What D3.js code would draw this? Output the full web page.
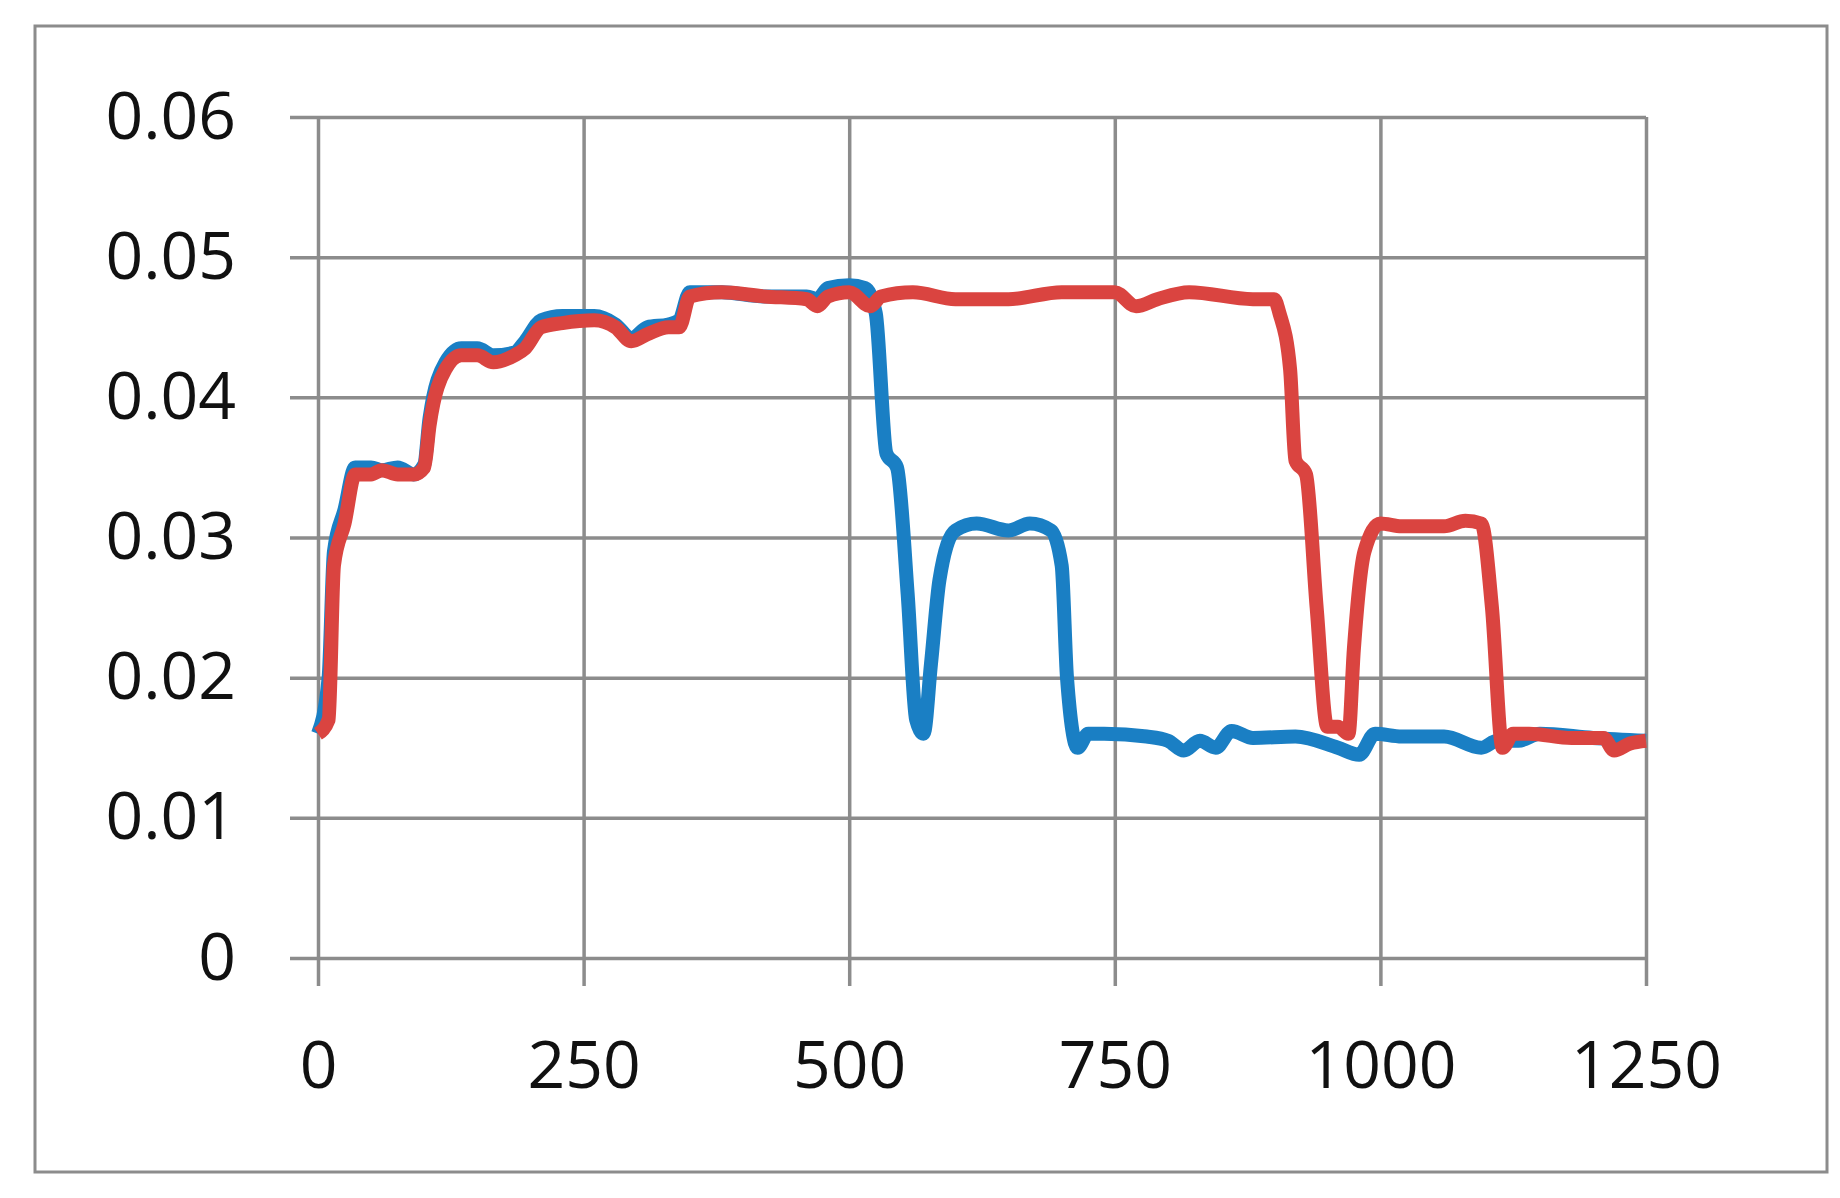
<!DOCTYPE html>
<html>
<head>
<meta charset="utf-8">
<script src="https://cdn.jsdelivr.net/npm/d3@7"></script>
<style>
  body { margin: 0; background: #fff; }
</style>
</head>
<body>
<div id="chart"></div>
<script>
// x ticks and y ticks
var xTicks = [0, 250, 500, 750, 1000, 1250];
var yTicks = [0, 0.01, 0.02, 0.03, 0.04, 0.05, 0.06];
var yTickLabels = ["0", "0.01", "0.02", "0.03", "0.04", "0.05", "0.06"];

// blue series
var blueX = [0, 10, 15, 25, 35, 50, 60, 75, 90, 100, 105, 120, 135, 150, 165, 185, 195, 210, 230, 260, 280, 295, 310, 330, 340, 350, 380, 420, 460, 470, 480, 500, 515, 525, 535, 545, 555, 563, 570, 577, 585, 600, 620, 650, 670, 690, 700, 705, 715, 725, 740, 780, 800, 815, 830, 845, 860, 880, 920, 960, 980, 995, 1020, 1060, 1095, 1110, 1130, 1150, 1200, 1250];
var blueY = [0.016, 0.02, 0.029, 0.032, 0.035, 0.035, 0.0348, 0.035, 0.0345, 0.0352, 0.0385, 0.0425, 0.0435, 0.0435, 0.043, 0.0432, 0.044, 0.0455, 0.0458, 0.0458, 0.0452, 0.0442, 0.045, 0.0452, 0.0455, 0.0475, 0.0475, 0.0472, 0.0472, 0.047, 0.0478, 0.048, 0.0478, 0.046, 0.036, 0.035, 0.026, 0.017, 0.016, 0.021, 0.027, 0.0305, 0.031, 0.0305, 0.031, 0.0305, 0.028, 0.02, 0.015, 0.016, 0.016, 0.0158, 0.0155, 0.0148, 0.0155, 0.015, 0.0162, 0.0157, 0.0158, 0.015, 0.0145, 0.016, 0.0158, 0.0158, 0.015, 0.0155, 0.0155, 0.016, 0.0157, 0.0155];

// red series
var redX = [0, 10, 15, 25, 35, 50, 60, 75, 90, 100, 105, 120, 135, 150, 165, 185, 195, 210, 230, 260, 280, 295, 310, 330, 340, 350, 380, 420, 460, 470, 480, 500, 520, 530, 560, 600, 650, 700, 750, 770, 790, 820, 880, 900, 905, 915, 920, 930, 940, 950, 960, 970, 975, 985, 1000, 1020, 1060, 1080, 1095, 1105, 1115, 1125, 1140, 1180, 1210, 1220, 1235, 1250];
var redY = [0.016, 0.017, 0.028, 0.031, 0.0345, 0.0345, 0.0348, 0.0345, 0.0345, 0.035, 0.038, 0.042, 0.043, 0.043, 0.0425, 0.043, 0.0435, 0.045, 0.0453, 0.0455, 0.045, 0.044, 0.0445, 0.045, 0.045, 0.0472, 0.0475, 0.0472, 0.047, 0.0465, 0.0472, 0.0475, 0.0465, 0.0472, 0.0475, 0.047, 0.047, 0.0475, 0.0475, 0.0465, 0.047, 0.0475, 0.047, 0.047, 0.046, 0.042, 0.0355, 0.0345, 0.025, 0.0165, 0.0165, 0.016, 0.022, 0.029, 0.031, 0.0308, 0.0308, 0.0312, 0.031, 0.025, 0.015, 0.016, 0.016, 0.0157, 0.0157, 0.0148, 0.0153, 0.0155];

var svgWidth = 1840;
var svgHeight = 1198;
var margin = { top: 117, left: 318 };
var width = 1646 - 318;
var height = 958 - 117;

var svg = d3.select("#chart").append("svg")
  .attr("width", svgWidth)
  .attr("height", svgHeight);

// outer frame
svg.append("rect")
  .attr("x", 35).attr("y", 26)
  .attr("width", 1792).attr("height", 1146)
  .attr("fill", "none").attr("stroke", "#8c8c8c").attr("stroke-width", 3);

var chartGroup = svg.append("g")
  .attr("transform", `translate(${margin.left}, ${margin.top})`);

var x = d3.scaleLinear().domain([0, 1250]).range([0, width]);
var y = d3.scaleLinear().domain([0, 0.06]).range([height, 0]);

// horizontal grid + y labels
var yAxis = d3.axisLeft(y)
  .tickValues(yTicks)
  .tickSize(-width)
  .tickPadding(82)
  .tickFormat((d, i) => yTickLabels[i]);
var yG = chartGroup.append("g").call(yAxis);
yG.select(".domain").remove();
yG.selectAll("line").attr("x1", -28).attr("stroke", "#8c8c8c").attr("stroke-width", 3.5);

// vertical grid + x labels
var xAxis = d3.axisBottom(x)
  .tickValues(xTicks)
  .tickSize(28)
  .tickPadding(55)
  .tickFormat(d3.format("d"));
var xG = chartGroup.append("g")
  .attr("transform", `translate(0, ${height})`)
  .call(xAxis);
xG.select(".domain").remove();
xG.selectAll("line").attr("y1", -height).attr("stroke", "#8c8c8c").attr("stroke-width", 3.5);

svg.selectAll(".tick text")
  .attr("font-family", "Open Sans, sans-serif")
  .attr("font-size", 66)
  .attr("fill", "#111");

var line = d3.line()
  .x(d => x(d[0]))
  .y(d => y(d[1]))
  .curve(d3.curveMonotoneX);

chartGroup.append("path")
  .datum(blueX.map((v, i) => [v, blueY[i]]))
  .attr("d", line)
  .attr("fill", "none")
  .attr("stroke", "#1a7fc4")
  .attr("stroke-width", 14)
  .attr("stroke-linejoin", "round");

chartGroup.append("path")
  .datum(redX.map((v, i) => [v, redY[i]]))
  .attr("d", line)
  .attr("fill", "none")
  .attr("stroke", "#da4440")
  .attr("stroke-width", 14)
  .attr("stroke-linejoin", "round");
</script>
</body>
</html>
